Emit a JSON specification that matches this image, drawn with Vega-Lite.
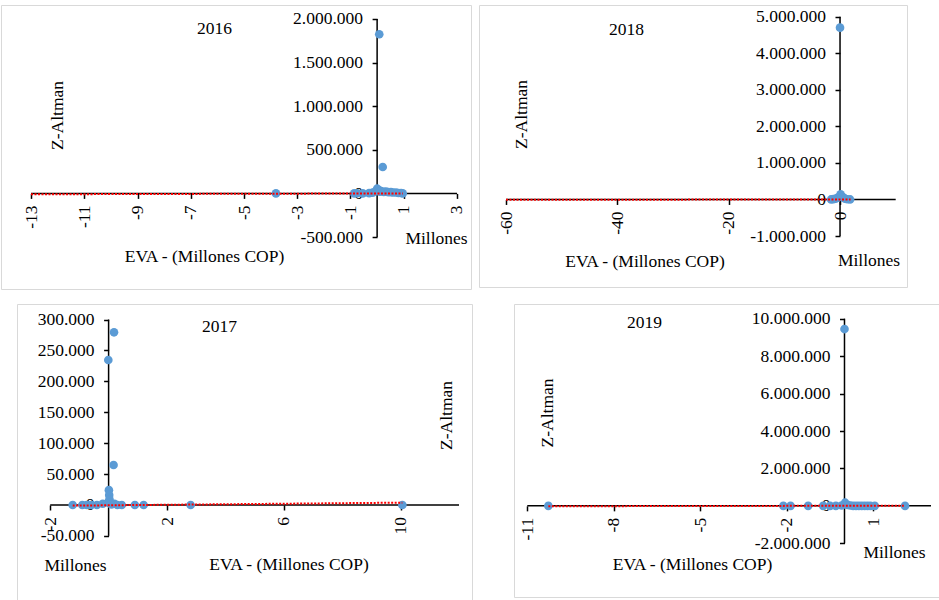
{
  "$schema": "https://vega.github.io/schema/vega-lite/v6.json",
  "background": "white",
  "padding": {"left": 0, "top": 4, "right": 0, "bottom": 0},
  "spacing": 13,
  "datasets": {
    "p2016": [
      {"eva": -3.8, "z": 0}, {"eva": -0.86, "z": 0}, {"eva": -0.75, "z": 2000}, {"eva": -0.54, "z": 0},
      {"eva": -0.3, "z": 3000}, {"eva": -0.17, "z": 8000}, {"eva": -0.05, "z": 25000}, {"eva": 0, "z": 54000},
      {"eva": 0.05, "z": 40000}, {"eva": 0.08, "z": 1825000}, {"eva": 0.1, "z": 20000}, {"eva": 0.15, "z": 27000},
      {"eva": 0.21, "z": 303000}, {"eva": 0.25, "z": 18000}, {"eva": 0.33, "z": 20000}, {"eva": 0.42, "z": 15000},
      {"eva": 0.52, "z": 15000}, {"eva": 0.6, "z": 10000}, {"eva": 0.71, "z": 10000}, {"eva": 0.8, "z": 5000},
      {"eva": 0.9, "z": 5000}, {"eva": 0.96, "z": 0}
    ],
    "a2016": [{"x": -13, "x2": 3, "y": 0, "y2": 0}, {"x": 0, "x2": 0, "y": -500000, "y2": 2000000}],
    "t2016": [{"eva": -13, "z": -10000}, {"eva": 0.96, "z": 0}],
    "p2018": [
      {"eva": -1.6, "z": 0}, {"eva": -1.2, "z": 10000}, {"eva": -0.8, "z": 20000}, {"eva": -0.4, "z": 50000},
      {"eva": 0, "z": 4700000}, {"eva": 0.1, "z": 140000}, {"eva": 0.3, "z": 80000}, {"eva": 0.6, "z": 50000},
      {"eva": 0.9, "z": 20000}, {"eva": 1.3, "z": 5000}, {"eva": 1.8, "z": 0}
    ],
    "a2018": [{"x": -60, "x2": 10, "y": 0, "y2": 0}, {"x": 0, "x2": 0, "y": -1000000, "y2": 5000000}],
    "t2018": [{"eva": -60, "z": -10000}, {"eva": 1.9, "z": 0}],
    "p2017": [
      {"eva": -1.23, "z": 0}, {"eva": -0.9, "z": 0}, {"eva": -0.75, "z": 0}, {"eva": -0.6, "z": 0},
      {"eva": -0.4, "z": 0}, {"eva": -0.2, "z": 2000}, {"eva": -0.01, "z": 234500}, {"eva": 0, "z": 5000},
      {"eva": 0.01, "z": 24000}, {"eva": 0.02, "z": 16000}, {"eva": 0.03, "z": 9000}, {"eva": 0.05, "z": 3000},
      {"eva": 0.1, "z": 1000}, {"eva": 0.17, "z": 64700}, {"eva": 0.185, "z": 279300}, {"eva": 0.2, "z": 2000},
      {"eva": 0.3, "z": 0}, {"eva": 0.45, "z": 0}, {"eva": 0.9, "z": 0}, {"eva": 1.2, "z": 0},
      {"eva": 2.81, "z": 0}, {"eva": 10.06, "z": 0}
    ],
    "a2017": [{"x": -2, "x2": 12, "y": 0, "y2": 0}, {"x": 0, "x2": 0, "y": -50000, "y2": 300000}],
    "t2017": [{"eva": -1.23, "z": -1000}, {"eva": 10.06, "z": 3800}],
    "p2019": [
      {"eva": -10.27, "z": 0}, {"eva": -2.12, "z": 0}, {"eva": -1.87, "z": 0}, {"eva": -1.26, "z": 0},
      {"eva": -0.74, "z": 0}, {"eva": -0.5, "z": 0}, {"eva": -0.3, "z": 0}, {"eva": -0.1, "z": 20000},
      {"eva": 0, "z": 9447000}, {"eva": 0.02, "z": 170000}, {"eva": 0.1, "z": 50000}, {"eva": 0.2, "z": 20000},
      {"eva": 0.3, "z": 0}, {"eva": 0.4, "z": 0}, {"eva": 0.5, "z": 0}, {"eva": 0.6, "z": 0},
      {"eva": 0.7, "z": 0}, {"eva": 0.8, "z": 0}, {"eva": 0.9, "z": 0}, {"eva": 1.05, "z": 0}, {"eva": 2.1, "z": 0}
    ],
    "a2019": [{"x": -11, "x2": 3, "y": 0, "y2": 0}, {"x": 0, "x2": 0, "y": -2000000, "y2": 10000000}],
    "t2019": [{"eva": -10.27, "z": -20000}, {"eva": 2.1, "z": 10000}]
  },
  "vconcat": [
    {
      "spacing": 6,
      "hconcat": [
        {
          "width": 470, "height": 284,
          "resolve": {"axis": {"x": "independent", "y": "independent"}},
          "layer": [
            {
              "data": {"name": "a2016"},
              "mark": {"type": "rule", "color": "#000", "strokeWidth": 1.5},
              "encoding": {
                "x": {"field": "x", "type": "quantitative", "scale": {"domain": [-14.127, 3.526], "nice": false, "zero": false},
                      "axis": {"orient": "top", "labels": false, "ticks": false, "title": "Millones", "titleX": 435, "titleY": 233, "titleAngle": 0}},
                "x2": {"field": "x2"},
                "y": {"field": "y", "type": "quantitative", "scale": {"domain": [-1096330, 2160550], "nice": false, "zero": false},
                      "axis": {"orient": "right", "labels": false, "ticks": false, "title": "2016", "titleX": -257, "titleY": 23, "titleAngle": 0}},
                "y2": {"field": "y2"}
              }
            },
            {
              "data": {"name": "p2016"},
              "mark": {"type": "point", "filled": true, "color": "#5B9BD5", "size": 75, "opacity": 1},
              "encoding": {
                "x": {"field": "eva", "type": "quantitative", "scale": {"domain": [-14.127, 3.526], "nice": false, "zero": false},
                      "axis": {"orient": "bottom", "offset": -95.6, "values": [-13, -11, -9, -7, -5, -3, -1, 1, 3], "format": "d", "labelAngle": -90, "labelPadding": 6.5,
                               "title": "EVA - (Millones COP)", "titleX": 203, "titleY": 62.6, "titleAngle": 0}},
                "y": {"field": "z", "type": "quantitative", "scale": {"domain": [-1096330, 2160550], "nice": false, "zero": false},
                      "axis": {"orient": "left", "offset": -376.1, "values": [-500000, 0, 500000, 1000000, 1500000, 2000000], "format": ",d",
                               "title": "Z-Altman", "titleX": -320.1, "titleY": 110, "titleAngle": -90}}
              }
            },
            {
              "data": {"name": "t2016"},
              "mark": {"type": "line", "color": "#FF0000", "strokeWidth": 2, "strokeDash": [2, 1.5]},
              "encoding": {
                "x": {"field": "eva", "type": "quantitative", "scale": {"domain": [-14.127, 3.526], "nice": false, "zero": false}, "axis": null},
                "y": {"field": "z", "type": "quantitative", "scale": {"domain": [-1096330, 2160550], "nice": false, "zero": false}, "axis": null}
              }
            }
          ]
        },
        {
          "width": 428, "height": 282,
          "resolve": {"axis": {"x": "independent", "y": "independent"}},
          "layer": [
            {
              "data": {"name": "a2018"},
              "mark": {"type": "rule", "color": "#000", "strokeWidth": 1.5},
              "encoding": {
                "x": {"field": "x", "type": "quantitative", "scale": {"domain": [-64.85, 12.03], "nice": false, "zero": false},
                      "axis": {"orient": "top", "labels": false, "ticks": false, "title": "Millones", "titleX": 389.5, "titleY": 255, "titleAngle": 0}},
                "x2": {"field": "x2"},
                "y": {"field": "y", "type": "quantitative", "scale": {"domain": [-2395300, 5320100], "nice": false, "zero": false},
                      "axis": {"orient": "right", "labels": false, "ticks": false, "title": "2018", "titleX": -281, "titleY": 24.5, "titleAngle": 0}},
                "y2": {"field": "y2"}
              }
            },
            {
              "data": {"name": "p2018"},
              "mark": {"type": "point", "filled": true, "color": "#5B9BD5", "size": 75, "opacity": 1},
              "encoding": {
                "x": {"field": "eva", "type": "quantitative", "scale": {"domain": [-64.85, 12.03], "nice": false, "zero": false},
                      "axis": {"orient": "bottom", "offset": -87.55, "values": [-60, -40, -20, 0], "format": "d", "labelAngle": -90, "labelPadding": 6.5,
                               "title": "EVA - (Millones COP)", "titleX": 165.5, "titleY": 62, "titleAngle": 0}},
                "y": {"field": "z", "type": "quantitative", "scale": {"domain": [-2395300, 5320100], "nice": false, "zero": false},
                      "axis": {"orient": "left", "offset": -361, "values": [-1000000, 0, 1000000, 2000000, 3000000, 4000000, 5000000], "format": ",d",
                               "title": "Z-Altman", "titleX": -319, "titleY": 109, "titleAngle": -90}}
              }
            },
            {
              "data": {"name": "t2018"},
              "mark": {"type": "line", "color": "#FF0000", "strokeWidth": 2, "strokeDash": [2, 1.5]},
              "encoding": {
                "x": {"field": "eva", "type": "quantitative", "scale": {"domain": [-64.85, 12.03], "nice": false, "zero": false}, "axis": null},
                "y": {"field": "z", "type": "quantitative", "scale": {"domain": [-2395300, 5320100], "nice": false, "zero": false}, "axis": null}
              }
            }
          ]
        }
      ]
    },
    {
      "spacing": 40,
      "hconcat": [
        {
          "spacing": 14,
          "hconcat": [
            {
              "width": 1, "height": 1,
              "view": {"stroke": null},
              "data": {"values": [{"a": 0}]},
              "mark": {"type": "point", "opacity": 0, "size": 0},
              "encoding": {}
            },
            {
              "width": 455, "height": 296,
              "resolve": {"axis": {"x": "independent", "y": "independent"}},
              "layer": [
                {
                  "data": {"name": "a2017"},
                  "mark": {"type": "rule", "color": "#000", "strokeWidth": 1.5},
                  "encoding": {
                    "x": {"field": "x", "type": "quantitative", "scale": {"domain": [-3.137, 12.445], "nice": false, "zero": false},
                          "axis": {"orient": "top", "labels": false, "ticks": false, "title": "Millones", "titleX": 58, "titleY": 261, "titleAngle": 0}},
                    "x2": {"field": "x2"},
                    "y": {"field": "y", "type": "quantitative", "scale": {"domain": [-153650, 325070], "nice": false, "zero": false},
                          "axis": {"orient": "right", "labels": false, "ticks": false, "title": "2017", "titleX": -253, "titleY": 22, "titleAngle": 0}},
                    "y2": {"field": "y2"}
                  }
                },
                {
                  "data": {"name": "p2017"},
                  "mark": {"type": "point", "filled": true, "color": "#5B9BD5", "size": 75, "opacity": 1},
                  "encoding": {
                    "x": {"field": "eva", "type": "quantitative", "scale": {"domain": [-3.137, 12.445], "nice": false, "zero": false},
                          "axis": {"orient": "bottom", "offset": -95, "values": [-2, 2, 6, 10], "format": "d", "labelAngle": -90, "labelPadding": 6.5,
                                   "title": "EVA - (Millones COP)", "titleX": 271.5, "titleY": 59.5, "titleAngle": 0}},
                    "y": {"field": "z", "type": "quantitative", "scale": {"domain": [-153650, 325070], "nice": false, "zero": false},
                          "axis": {"orient": "left", "offset": -91.6, "values": [-50000, 0, 50000, 100000, 150000, 200000, 250000, 300000], "format": ",d",
                                   "title": "Z-Altman", "titleX": 337.4, "titleY": 111, "titleAngle": -90}}
                  }
                },
                {
                  "data": {"name": "t2017"},
                  "mark": {"type": "line", "color": "#FF0000", "strokeWidth": 2, "strokeDash": [2, 1.5]},
                  "encoding": {
                    "x": {"field": "eva", "type": "quantitative", "scale": {"domain": [-3.137, 12.445], "nice": false, "zero": false}, "axis": null},
                    "y": {"field": "z", "type": "quantitative", "scale": {"domain": [-153650, 325070], "nice": false, "zero": false}, "axis": null}
                  }
                }
              ]
            }
          ]
        },
        {
          "width": 425, "height": 293,
          "resolve": {"axis": {"x": "independent", "y": "independent"}},
          "layer": [
            {
              "data": {"name": "a2019"},
              "mark": {"type": "rule", "color": "#000", "strokeWidth": 1.5},
              "encoding": {
                "x": {"field": "x", "type": "quantitative", "scale": {"domain": [-11.461, 3.2775], "nice": false, "zero": false},
                      "axis": {"orient": "top", "labels": false, "ticks": false, "title": "Millones", "titleX": 380, "titleY": 248, "titleAngle": 0}},
                "x2": {"field": "x2"},
                "y": {"field": "y", "type": "quantitative", "scale": {"domain": [-4868600, 10785300], "nice": false, "zero": false},
                      "axis": {"orient": "right", "labels": false, "ticks": false, "title": "2019", "titleX": -295, "titleY": 18.5, "titleAngle": 0}},
                "y2": {"field": "y2"}
              }
            },
            {
              "data": {"name": "p2019"},
              "mark": {"type": "point", "filled": true, "color": "#5B9BD5", "size": 75, "opacity": 1},
              "encoding": {
                "x": {"field": "eva", "type": "quantitative", "scale": {"domain": [-11.461, 3.2775], "nice": false, "zero": false},
                      "axis": {"orient": "bottom", "offset": -91.15, "values": [-11, -8, -5, -2, 1], "format": "d", "labelAngle": -90, "labelPadding": 6.5,
                               "title": "EVA - (Millones COP)", "titleX": 178, "titleY": 58.65, "titleAngle": 0}},
                "y": {"field": "z", "type": "quantitative", "scale": {"domain": [-4868600, 10785300], "nice": false, "zero": false},
                      "axis": {"orient": "left", "offset": -330.5, "values": [-2000000, 0, 2000000, 4000000, 6000000, 8000000, 10000000], "format": ",d",
                               "title": "Z-Altman", "titleX": -297.5, "titleY": 108.5, "titleAngle": -90}}
              }
            },
            {
              "data": {"name": "t2019"},
              "mark": {"type": "line", "color": "#FF0000", "strokeWidth": 2, "strokeDash": [2, 1.5]},
              "encoding": {
                "x": {"field": "eva", "type": "quantitative", "scale": {"domain": [-11.461, 3.2775], "nice": false, "zero": false}, "axis": null},
                "y": {"field": "z", "type": "quantitative", "scale": {"domain": [-4868600, 10785300], "nice": false, "zero": false}, "axis": null}
              }
            }
          ]
        }
      ]
    }
  ],
  "config": {
    "locale": {"number": {"decimal": ",", "thousands": ".", "grouping": [3], "currency": ["$", ""], "minus": "-"}},
    "view": {"stroke": "#D9D9D9", "strokeWidth": 1},
    "axis": {
      "domain": false, "grid": false, "tickSize": 5, "tickWidth": 1.5, "tickColor": "#000",
      "labelFont": "Liberation Serif", "labelFontSize": 17.5, "labelColor": "#000", "labelPadding": 9.5,
      "labelOverlap": false, "labelFlush": false, "labelBound": false,
      "titleFont": "Liberation Serif", "titleFontSize": 17.5, "titleFontWeight": "normal", "titleColor": "#000",
      "titleAlign": "center", "titleBaseline": "middle", "titlePadding": 0
    }
  }
}
